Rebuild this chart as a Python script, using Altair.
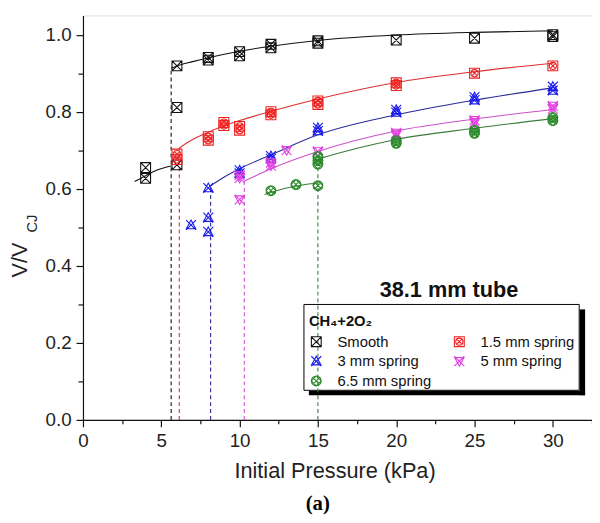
import altair as alt
import pandas as pd

series = ["Smooth", "1.5 mm spring", "3 mm spring", "5 mm spring", "6.5 mm spring"]
# legend fills column by column: this order gives rows Smooth|1.5, 3|5, 6.5
legend_order = ["Smooth", "3 mm spring", "6.5 mm spring", "1.5 mm spring", "5 mm spring"]

smooth_x = [4, 4, 6, 6, 6, 8, 8, 10, 10, 12, 12, 15, 15, 20, 25, 30, 30]
smooth_y = [0.655, 0.627, 0.919, 0.811, 0.662, 0.941, 0.934, 0.956, 0.945,
            0.975, 0.966, 0.984, 0.978, 0.986, 0.991, 1.000, 0.995]
s15_x = [6, 6, 8, 8, 9, 9, 10, 10, 12, 12, 15, 15, 20, 20, 25, 30]
s15_y = [0.690, 0.676, 0.735, 0.726, 0.772, 0.764, 0.762, 0.752, 0.800, 0.792,
         0.828, 0.819, 0.875, 0.868, 0.900, 0.919]
s3_x = [6.9, 8, 8, 8, 10, 10, 12, 12, 15, 15, 20, 20, 25, 25, 30, 30]
s3_y = [0.506, 0.602, 0.525, 0.488, 0.648, 0.640, 0.685, 0.678, 0.758, 0.750,
        0.805, 0.798, 0.838, 0.830, 0.865, 0.855]
s5_x = [10, 10, 10, 12, 12, 13, 15, 20, 20, 25, 25, 30, 30]
s5_y = [0.635, 0.628, 0.572, 0.668, 0.660, 0.700, 0.697, 0.745, 0.740, 0.778,
        0.772, 0.815, 0.808]
s65_x = [12, 13.6, 15, 15, 15, 15, 20, 20, 25, 25, 30, 30]
s65_y = [0.595, 0.611, 0.608, 0.684, 0.673, 0.664, 0.725, 0.718, 0.752, 0.744,
         0.785, 0.777]

# ---- fitted curves ----
smooth_lo_x = [3.3, 4.0, 4.7, 5.63]
smooth_lo_y = [0.619, 0.634, 0.648, 0.659]
smooth_hi_x = [5.63, 6, 7, 8, 10, 12, 15, 20, 25, 30]
smooth_hi_y = [0.913, 0.919, 0.930, 0.940, 0.957, 0.970, 0.985, 0.999, 1.006, 1.010]
c15_x = [6.15, 7, 8, 10, 12, 15, 20, 25, 30]
c15_y = [0.706, 0.728, 0.747, 0.777, 0.801, 0.833, 0.876, 0.904, 0.926]
c3_x = [8.15, 9, 10, 12, 15, 20, 25, 30]
c3_y = [0.608, 0.630, 0.652, 0.688, 0.740, 0.792, 0.830, 0.862]
c5_x = [10.3, 11, 12, 15, 20, 25, 30]
c5_y = [0.620, 0.633, 0.652, 0.697, 0.750, 0.781, 0.806]
c65_lo_x = [11.6, 13, 14, 15]
c65_lo_y = [0.585, 0.602, 0.610, 0.615]
c65_hi_x = [15, 17.5, 20, 25, 30]
c65_hi_y = [0.677, 0.705, 0.728, 0.757, 0.782]

# ---- dashed threshold lines ----
thr_x = [5.63, 6.15, 8.15, 10.3, 15.0]
thr_top = [0.913, 0.706, 0.608, 0.620, 0.677]

# ---- texts ----
legend_title = "CH\u2084+2O\u2082"
tube_label = "38.1 mm tube"
x_title = "Initial Pressure (kPa)"
y_title_main = "V/V"
y_title_sub = "CJ"
panel_label = "(a)"

pt_colors = {"Smooth": "#111111", "1.5 mm spring": "#ee2020", "3 mm spring": "#1a1aee",
             "5 mm spring": "#e23ee2", "6.5 mm spring": "#2a8a2a"}
ln_colors = ["#111111", "#dd3030", "#2a2a9a", "#cc50cc", "#3c7c3c"]
shapes = {
    "Smooth": "M-1,-1H1V1H-1Z M-1,-1L1,1 M-1,1L1,-1",
    "1.5 mm spring": "M-1,-1H1V1H-1Z M-0.72,0A0.72,0.72,0,1,0,0.72,0A0.72,0.72,0,1,0,-0.72,0 M-0.5,-0.5L0.5,0.5 M-0.5,0.5L0.5,-0.5",
    "3 mm spring": "M0,-1L0.95,0.75L-0.95,0.75Z M-1,-1L1,1 M1,-1L-1,1",
    "5 mm spring": "M0,1L0.95,-0.75L-0.95,-0.75Z M-1,-1L1,1 M1,-1L-1,1",
    "6.5 mm spring": "M-1,0A1,1,0,1,0,1,0A1,1,0,1,0,-1,0 M-0.7,-0.7L0.7,0.7 M-0.7,0.7L0.7,-0.7 M0,-1L1,0L0,1L-1,0Z",
}

# ---- tables ----
pts = pd.concat([
    pd.DataFrame({"x": xs, "y": ys, "series": name})
    for name, xs, ys in [
        (series[0], smooth_x, smooth_y), (series[1], s15_x, s15_y),
        (series[2], s3_x, s3_y), (series[3], s5_x, s5_y), (series[4], s65_x, s65_y)]
], ignore_index=True)

line_segments = [
    (0, smooth_lo_x, smooth_lo_y), (0, smooth_hi_x, smooth_hi_y),
    (1, c15_x, c15_y), (2, c3_x, c3_y), (3, c5_x, c5_y),
    (4, c65_lo_x, c65_lo_y), (4, c65_hi_x, c65_hi_y),
]

FONT = "Liberation Sans"
xs_ = alt.Scale(domain=[0, 32.5], nice=False, zero=False)
ys_ = alt.Scale(domain=[0, 1.05], nice=False, zero=False)

x_axis = alt.Axis(
    values=[i * 2.5 for i in range(14)],
    labelExpr="round(datum.value/2.5) % 2 == 0 ? datum.label : ''",
    tickSize={"condition": {"test": "round(datum.value/2.5) % 2 == 0", "value": 7}, "value": 4},
    title=x_title, titleFontSize=22, titleFontWeight="normal", titleColor="#222",
    titleBaseline="alphabetic", titleY=58, titleX=255, titleFont=FONT,
    labelFontSize=19, labelColor="#222", labelFont=FONT, labelPadding=5,
    grid=False, domainColor="#111", tickColor="#111", domainWidth=1.2, tickWidth=1.2,
    labelFlush=False, labelOverlap=False,
)
y_axis = alt.Axis(
    values=[round(i * 0.1, 1) for i in range(11)], format=".1f",
    labelExpr="round(datum.value*10) % 2 == 0 ? datum.label : ''",
    tickSize={"condition": {"test": "round(datum.value*10) % 2 == 0", "value": 7}, "value": 5},
    title=None, labelFontSize=19, labelColor="#222", labelFont=FONT, labelPadding=5,
    grid=False, domainColor="#111", tickColor="#111", domainWidth=1.2, tickWidth=1.2,
    labelFlush=False, labelOverlap=False,
)

leg = alt.Legend(
    title=legend_title, orient="none", legendX=229, legendY=303, columns=2, padding=0,
    titleFontSize=15, titleFontWeight="bold", titleColor="#111", titleFont=FONT, titlePadding=5,
    labelFontSize=15, labelColor="#111", labelFont=FONT, labelOffset=14, labelLimit=200,
    rowPadding=4, columnPadding=20, symbolStrokeWidth=1.1, symbolSize=100, zindex=2,
)

base_x = alt.X("x:Q", scale=xs_, axis=x_axis)
base_y = alt.Y("y:Q", scale=ys_, axis=y_axis)

one = pd.DataFrame({"k": [0]})
shadow_r = alt.Chart(one).mark_rect(color="black").encode(
    x=alt.value(503.5), x2=alt.value(509), y=alt.value(298), y2=alt.value(385))
shadow_b = alt.Chart(one).mark_rect(color="black").encode(
    x=alt.value(229), x2=alt.value(509), y=alt.value(380.5), y2=alt.value(385))
box = alt.Chart(one).mark_rect(fill="white", fillOpacity=0, stroke="black", strokeWidth=1).encode(
    x=alt.value(224), x2=alt.value(503), y=alt.value(293), y2=alt.value(380))

layers = [shadow_r, shadow_b, box]

for i, (tx, ty) in enumerate(zip(thr_x, thr_top)):
    df = pd.DataFrame({"x": [tx], "y": [0.0], "y1": [ty]})
    layers.append(alt.Chart(df).mark_rule(strokeDash=[4, 3], strokeWidth=1.1, color=ln_colors[i]).encode(
        x=base_x, y=base_y, y2="y1:Q"))

for si, lx, ly in line_segments:
    df = pd.DataFrame({"x": lx, "y": ly})
    layers.append(alt.Chart(df).mark_line(strokeWidth=1.1, interpolate="monotone", color=ln_colors[si]).encode(
        x=base_x, y=base_y))

point_layer = alt.Chart(pts).mark_point(filled=False, strokeWidth=1.1, opacity=1, size=100).encode(
    x=base_x, y=base_y,
    color=alt.Color("series:N", scale=alt.Scale(domain=legend_order,
                    range=[pt_colors[s] for s in legend_order]), legend=leg),
    shape=alt.Shape("series:N", scale=alt.Scale(domain=legend_order,
                    range=[shapes[s] for s in legend_order]), legend=leg),
)
layers.append(point_layer)

tube = alt.Chart(pd.DataFrame({"t": [tube_label]})).mark_text(
    font=FONT, fontSize=22, fontWeight="bold", color="#111", align="center", baseline="middle"
).encode(text="t:N", x=alt.value(371), y=alt.value(278))
yt_main = alt.Chart(pd.DataFrame({"t": [y_title_main]})).mark_text(
    font=FONT, fontSize=22, color="#222", align="center", baseline="middle", angle=270
).encode(text="t:N", x=alt.value(-64), y=alt.value(248))
yt_sub = alt.Chart(pd.DataFrame({"t": [y_title_sub]})).mark_text(
    font=FONT, fontSize=15, color="#222", align="center", baseline="middle", angle=270
).encode(text="t:N", x=alt.value(-52), y=alt.value(211))
panel = alt.Chart(pd.DataFrame({"t": [panel_label]})).mark_text(
    font="Liberation Serif", fontSize=21, fontWeight="bold", color="#000", align="center", baseline="middle"
).encode(text="t:N", x=alt.value(238), y=alt.value(495))
layers += [tube, yt_main, yt_sub, panel]

chart = alt.layer(*layers).properties(
    width=516, height=410,
    autosize=alt.AutoSizeParams(type="none"),
    padding={"left": 76, "top": 4, "right": 0, "bottom": 101},
).configure_view(stroke=None).configure(font=FONT)

chart.save("out.html", embed_options={"renderer": "svg", "actions": False})
